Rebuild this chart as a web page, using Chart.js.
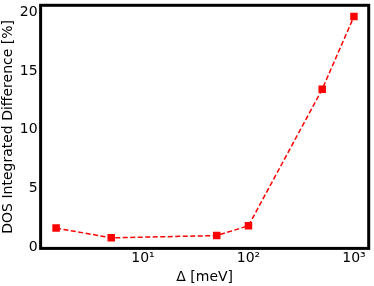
<!DOCTYPE html>
<html>
<head>
<meta charset="utf-8">
<script src="https://cdn.jsdelivr.net/npm/chart.js@4/dist/chart.umd.min.js"></script>
<style>
  html, body { margin: 0; padding: 0; background: #fff; }
  #wrap { width: 374px; height: 286px; }
</style>
</head>
<body>
<div id="wrap"><canvas id="dosChart" width="374" height="286"></canvas></div>
<script>
// values
const deltaMeV = [1.5, 5, 50, 100, 500, 1000];
const dosDiff = [1.63, 0.8, 0.99, 1.83, 13.45, 19.65];
const xTickValues = [10, 100, 1000];
const xTickLabels = ['10¹', '10²', '10³'];
const yTickValues = [0, 5, 10, 15, 20];

Chart.defaults.font.family = '"DejaVu Sans", sans-serif';
Chart.defaults.color = '#000';

// thick black frame round the plot area
const frame = {
  id: 'frame',
  afterDatasetsDraw(chart) {
    const a = chart.chartArea;
    const ctx = chart.ctx;
    ctx.save();
    ctx.strokeStyle = '#000';
    ctx.lineWidth = 3;
    ctx.strokeRect(a.left, a.top, a.right - a.left, a.bottom - a.top);
    ctx.restore();
  }
};

const ctx = document.getElementById('dosChart').getContext('2d');
new Chart(ctx, {
  type: 'line',
  data: {
    datasets: [{
      data: deltaMeV.map((x, i) => ({ x: x, y: dosDiff[i] })),
      borderColor: '#ff0000',
      backgroundColor: '#ff0000',
      borderWidth: 1.5,
      borderDash: [5, 2.5],
      pointStyle: 'rect',
      pointRadius: 5.3,
      pointBorderWidth: 0,
      tension: 0,
    }],
  },
  options: {
    responsive: false,
    devicePixelRatio: 1,
    animation: false,
    layout: { padding: { top: 3, right: 1.5, left: 0, bottom: 0 } },
    plugins: { legend: { display: false }, tooltip: { enabled: false } },
    scales: {
      x: {
        type: 'logarithmic',
        min: 1.07,
        max: 1380,
        grid: { display: false, drawTicks: false },
        border: { display: false },
        afterBuildTicks(axis) {
          axis.ticks = xTickValues.map((v) => ({ value: v }));
        },
        afterFit(axis) {
          axis.paddingLeft = 0;
          axis.paddingRight = 0;
        },
        ticks: {
          autoSkip: false,
          maxRotation: 0,
          font: { size: 14 },
          padding: 2,
          callback: (v) => xTickLabels[xTickValues.indexOf(v)],
        },
        title: { display: true, text: 'Δ [meV]', font: { size: 14 }, padding: { top: 0, bottom: 0 } },
      },
      y: {
        min: -0.1,
        max: 20.6,
        grid: { display: false, drawTicks: false },
        border: { display: false },
        afterBuildTicks(axis) {
          axis.ticks = yTickValues.map((v) => ({ value: v }));
        },
        afterFit(axis) {
          axis.paddingTop = 0;
          axis.paddingBottom = 0;
        },
        ticks: { font: { size: 14 }, padding: 3 },
        title: { display: true, text: 'DOS Integrated Difference [%]', font: { size: 14 }, padding: { top: 0, bottom: 0 } },
      },
    },
  },
  plugins: [frame],
});
</script>
</body>
</html>
